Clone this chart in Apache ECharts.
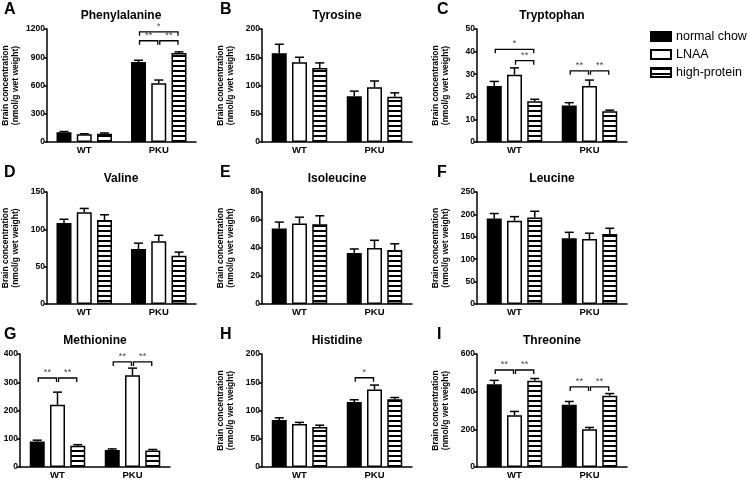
<!DOCTYPE html>
<html>
<head>
<meta charset="utf-8">
<script src="https://cdn.jsdelivr.net/npm/echarts@6/dist/echarts.min.js"></script>
<style>
  html, body { margin: 0; padding: 0; background: #fff; }
  #chart { width: 750px; height: 481px; }
</style>
</head>
<body>
<div id="chart"></div>
<script>
const groups = ["WT", "PKU"];
const diets = ["normal chow", "LNAA", "high-protein"];
const letters = ["A", "B", "C", "D", "E", "F", "G", "H", "I"];
const acids = ["Phenylalanine", "Tyrosine", "Tryptophan", "Valine", "Isoleucine", "Leucine", "Methionine", "Histidine", "Threonine"];
const yMax = [1200, 200, 50, 150, 80, 250, 400, 200, 600];
const yStep = [300, 50, 10, 50, 20, 50, 100, 50, 200];

// per diet: [WT, PKU]
const pheMean = [[103, 850], [82, 625], [88, 945]];
const pheSem = [[8, 18], [5, 33], [8, 12]];
const tyrMean = [[157, 81], [141, 97], [131, 80]];
const tyrSem = [[16, 9], [9, 11], [9, 7]];
const trpMean = [[24.8, 16.2], [29.8, 24.8], [18, 13.6]];
const trpSem = [[2, 1.2], [3, 2.6], [0.9, 0.5]];
const valMean = [[108.5, 73.5], [123, 84], [112.5, 64.5]];
const valSem = [[5, 8], [5, 8], [7, 5]];
const ileMean = [[54, 36.5], [57.5, 40], [57, 38.5]];
const ileSem = [[4.5, 2.8], [4.5, 5.5], [6, 4.5]];
const leuMean = [[191, 147], [186, 145], [193, 156]];
const leuSem = [[11, 13], [9, 13], [14, 13]];
const metMean = [[90, 60], [220, 325], [75, 58]];
const metSem = [[5, 4], [45, 25], [4, 4]];
const hisMean = [[83, 115], [76, 137], [71, 120]];
const hisSem = [[4, 4], [3, 8], [3, 3]];
const thrMean = [[440, 330], [275, 200], [458, 378]];
const thrSem = [[20, 18], [20, 10], [12, 12]];

// significance: [group, fromDiet, toDiet, y, label]
const pheSig = [[1, 0, 2, 1170, "*"], [1, 0, 1, 1075, "**"], [1, 1, 2, 1075, "**"]];
const trpSig = [[0, 0, 2, 41, "*"], [0, 1, 2, 36, "**"], [1, 0, 1, 31.5, "**"], [1, 1, 2, 31.5, "**"]];
const metSig = [[0, 0, 1, 315, "**"], [0, 1, 2, 315, "**"], [1, 0, 1, 372, "**"], [1, 1, 2, 372, "**"]];
const hisSig = [[1, 0, 1, 158, "*"]];
const thrSig = [[0, 0, 1, 515, "**"], [0, 1, 2, 515, "**"], [1, 0, 1, 425, "**"], [1, 1, 2, 425, "**"]];

const means = [pheMean, tyrMean, trpMean, valMean, ileMean, leuMean, metMean, hisMean, thrMean];
const sems = [pheSem, tyrSem, trpSem, valSem, ileSem, leuSem, metSem, hisSem, thrSem];
const sigs = [pheSig, [], trpSig, [], [], [], metSig, hisSig, thrSig];

// layout
const gridLeft = [46, 262, 477, 46, 262, 477, 20, 262, 477];
const rowTop = [29, 192, 354];
const rowHeight = [113, 112, 113];
const plotWidth = 150;
const barWidth = 15;
const barStep = 20.25;
const font = "Liberation Sans, Arial, sans-serif";

function stripes() {
  const c = document.createElement("canvas");
  c.width = 4;
  c.height = 5;
  const ctx = c.getContext("2d");
  ctx.fillStyle = "#fff";
  ctx.fillRect(0, 0, 4, 5);
  ctx.fillStyle = "#000";
  ctx.fillRect(0, 0, 4, 2);
  return c;
}

const dietStyles = [
  { color: "#000", borderColor: "#000", borderWidth: 1.5 },
  { color: "#fff", borderColor: "#000", borderWidth: 1.5 },
  { color: { image: stripes(), repeat: "repeat" }, borderColor: "#000", borderWidth: 1.5 }
];

let grids = [], xAxes = [], yAxes = [], series = [], graphics = [];

for (let p = 0; p < 9; p++) {
  const row = Math.floor(p / 3);
  grids.push({ left: gridLeft[p], top: rowTop[row], width: plotWidth, height: rowHeight[row] });
  xAxes.push({
    type: "category", gridIndex: p, data: groups,
    axisLine: { lineStyle: { color: "#000", width: 1.5 } },
    axisTick: { alignWithLabel: true, length: 3, lineStyle: { color: "#000", width: 1.5 } },
    axisLabel: { color: "#000", fontSize: 9.5, fontWeight: "bold", margin: 3, fontFamily: font }
  });
  yAxes.push({
    type: "value", gridIndex: p, min: 0, max: yMax[p], interval: yStep[p],
    splitLine: { show: false },
    axisLine: { show: true, lineStyle: { color: "#000", width: 1.5 } },
    axisTick: { show: true, length: 3, lineStyle: { color: "#000", width: 1.5 } },
    axisLabel: { color: "#000", fontSize: 8.5, fontWeight: "bold", margin: 2, fontFamily: font,
      formatter: v => String(v) },
    name: p === 6 ? "" : "Brain concentration\n(nmol/g wet weight)",
    nameLocation: "middle", nameGap: 26,
    nameTextStyle: { color: "#000", fontSize: 8.5, fontWeight: "bold", lineHeight: 10, fontFamily: font }
  });

  for (let k = 0; k < 3; k++) {
    series.push({
      type: "bar", name: diets[k], xAxisIndex: p, yAxisIndex: p,
      data: means[p][k], barWidth: barWidth, barGap: "35%",
      itemStyle: dietStyles[k], silent: true
    });
  }

  const errData = [];
  for (let k = 0; k < 3; k++) {
    for (let g = 0; g < 2; g++) errData.push([g, means[p][k][g], sems[p][k][g], k]);
  }
  series.push({
    type: "custom", name: "err" + p, xAxisIndex: p, yAxisIndex: p, silent: true,
    data: errData, encode: { x: 0, y: 1 }, z: 3,
    renderItem: function (params, api) {
      const g = api.value(0), m = api.value(1), s = api.value(2), k = api.value(3);
      const base = api.coord([g, m]);
      const top = api.coord([g, m + s]);
      const x = base[0] + (k - 1) * barStep;
      const st = { stroke: "#000", lineWidth: 1.5 };
      return {
        type: "group", children: [
          { type: "line", shape: { x1: x, y1: base[1], x2: x, y2: top[1] }, style: st },
          { type: "line", shape: { x1: x - 4.5, y1: top[1], x2: x + 4.5, y2: top[1] }, style: st }
        ]
      };
    }
  });

  const sig = sigs[p];
  if (sig.length) {
    series.push({
      type: "custom", name: "sig" + p, xAxisIndex: p, yAxisIndex: p, silent: true,
      data: sig.map(r => r.slice(0, 4)), encode: { x: 0, y: 3 }, z: 4,
      renderItem: function (params, api) {
        const g = api.value(0), a = api.value(1), b = api.value(2), y = api.value(3);
        const c = api.coord([g, y]);
        const x1 = c[0] + (a - 1) * barStep + 1;
        const x2 = c[0] + (b - 1) * barStep - 1;
        return {
          type: "group", children: [
            { type: "polyline", shape: { points: [[x1, c[1] + 4], [x1, c[1]], [x2, c[1]], [x2, c[1] + 4]] },
              style: { stroke: "#000", lineWidth: 1.3, fill: null } },
            { type: "text", style: { text: sig[params.dataIndex][4], x: (x1 + x2) / 2, y: c[1] - 1,
              align: "center", verticalAlign: "bottom", fontSize: 9, fill: "#444", fontFamily: font } }
          ]
        };
      }
    });
  }

  const letterX = [4, 220, 437][p % 3];
  graphics.push({
    type: "text", left: letterX, top: rowTop[row] - 27,
    style: { text: letters[p], fontSize: 16, fontWeight: "bold", fill: "#000", fontFamily: font }
  });
  graphics.push({
    type: "text", x: gridLeft[p] + plotWidth / 2, y: rowTop[row] - 13,
    style: { text: acids[p], fontSize: 12, fontWeight: "bold", fill: "#000", fontFamily: font,
      align: "center", verticalAlign: "middle" }
  });
}

const chart = echarts.init(document.getElementById("chart"));
chart.setOption({
  animation: false,
  backgroundColor: "#fff",
  grid: grids,
  xAxis: xAxes,
  yAxis: yAxes,
  legend: {
    data: diets.map(d => ({ name: d, icon: "rect" })), orient: "vertical", left: 645, top: 25,
    itemWidth: 20, itemHeight: 9, itemGap: 5,
    textStyle: { color: "#000", fontSize: 12.5, fontFamily: font },
    selectedMode: false
  },
  graphic: graphics,
  series: series
});
</script>
</body>
</html>
